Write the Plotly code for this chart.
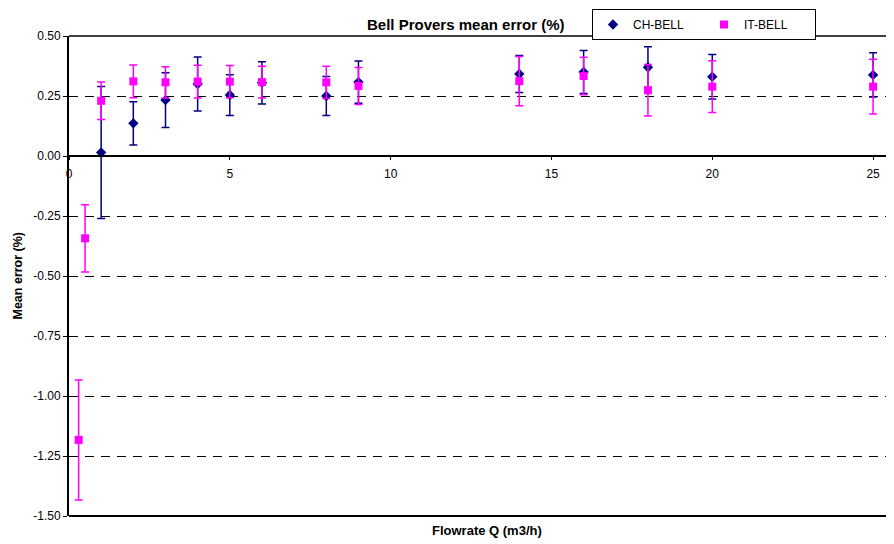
import plotly.graph_objects as go

# ---- data ----
ch_flow = [1, 2, 3, 4, 5, 6, 8, 9, 14, 16, 18, 20, 25]
ch_mean = [0.015, 0.136, 0.233, 0.300, 0.254, 0.305, 0.250, 0.308, 0.342, 0.350, 0.370, 0.330, 0.338]
ch_err = [0.275, 0.090, 0.114, 0.112, 0.085, 0.088, 0.081, 0.088, 0.077, 0.090, 0.085, 0.093, 0.092]

it_flow = [0.3, 0.5, 1, 2, 3, 4, 5, 6, 8, 9, 14, 16, 18, 20, 25]
it_mean = [-1.183, -0.343, 0.230, 0.311, 0.307, 0.310, 0.310, 0.308, 0.307, 0.292, 0.312, 0.333, 0.274, 0.289, 0.289]
it_err = [0.250, 0.140, 0.078, 0.068, 0.065, 0.068, 0.067, 0.066, 0.067, 0.077, 0.103, 0.078, 0.107, 0.108, 0.114]

y_ticks = [0.5, 0.25, 0.0, -0.25, -0.5, -0.75, -1.0, -1.25, -1.5]
y_labels = ["0.50", "0.25", "0.00", "-0.25", "-0.50", "-0.75", "-1.00", "-1.25", "-1.50"]
x_ticks = [0, 5, 10, 15, 20, 25]
x_labels = ["0", "5", "10", "15", "20", "25"]

FONT = "Arial, Liberation Sans, sans-serif"
NAVY = "#000080"
MAG = "#FF00FF"

# The page body has an 8px default margin; the figure is sized so that it fits the window.
W, H = 886, 536
L, T, B = 61, 28, 28
PW, PH = W - L, H - T - B  # 825 x 480

fig = go.Figure()
fig.add_trace(go.Scatter(
    x=ch_flow, y=ch_mean, mode="markers", name="CH-BELL",
    marker=dict(symbol="diamond", size=8, color=NAVY),
    error_y=dict(type="data", array=ch_err, visible=True, color=NAVY, thickness=1.5, width=4),
))
fig.add_trace(go.Scatter(
    x=it_flow, y=it_mean, mode="markers", name="IT-BELL",
    marker=dict(symbol="square", size=8, color=MAG),
    error_y=dict(type="data", array=it_err, visible=True, color=MAG, thickness=1.5, width=4),
))

fig.update_layout(
    width=W, height=H,
    margin=dict(l=L, r=0, t=T, b=B, autoexpand=False),
    paper_bgcolor="white", plot_bgcolor="white",
    font=dict(family=FONT, size=12, color="black"),
    showlegend=True,
    legend=dict(
        orientation="h", x=(584 - L) / PW, y=(T + PH - 1) / PH, xanchor="left", yanchor="top",
        bordercolor="black", borderwidth=1, bgcolor="white",
        font=dict(family=FONT, size=12), entrywidth=66, itemwidth=30,
        tracegroupgap=0,
    ),
    xaxis=dict(
        range=[0, 25.65], tickvals=x_ticks, ticktext=x_labels,
        showline=True, linecolor="black", linewidth=1.5,
        ticks="outside", ticklen=3, tickcolor="black",
        ticklabelstandoff=4,
        showgrid=False, zeroline=False,
        anchor="free", position=0.75,
        tickfont=dict(family=FONT, size=12),
    ),
    yaxis=dict(
        range=[-1.5, 0.5], tickvals=y_ticks, ticktext=y_labels,
        showline=True, linecolor="black", linewidth=2,
        ticks="outside", ticklen=4, tickcolor="black",
        showgrid=True, gridcolor="black", gridwidth=1, griddash="9px,7px",
        zeroline=False, domain=[0, 1],
        tickfont=dict(family=FONT, size=12),
    ),
    shapes=[
        dict(type="line", xref="paper", yref="paper", x0=0, x1=1, y0=0, y1=0,
             line=dict(color="black", width=2)),
        dict(type="line", xref="paper", yref="paper", x0=0, x1=1, y0=1, y1=1,
             line=dict(color="black", width=1.5)),
    ],
    annotations=[
        dict(text="<b>Bell Provers mean error (%)</b>", xref="paper", yref="paper",
             x=(458 - L) / PW, y=1.0, yanchor="middle", yshift=12, showarrow=False,
             font=dict(family=FONT, size=15)),
        dict(text="<b>Flowrate Q (m3/h)</b>", xref="paper", yref="paper",
             x=(479 - L) / PW, y=0, yanchor="middle", yshift=-14, showarrow=False,
             font=dict(family=FONT, size=13)),
        dict(text="<b>Mean error (%)</b>", xref="paper", yref="paper",
             x=0, xanchor="center", xshift=-51.5, y=0.5, textangle=-90, showarrow=False,
             font=dict(family=FONT, size=12.5)),
    ],
)

fig.write_html("out.html")
